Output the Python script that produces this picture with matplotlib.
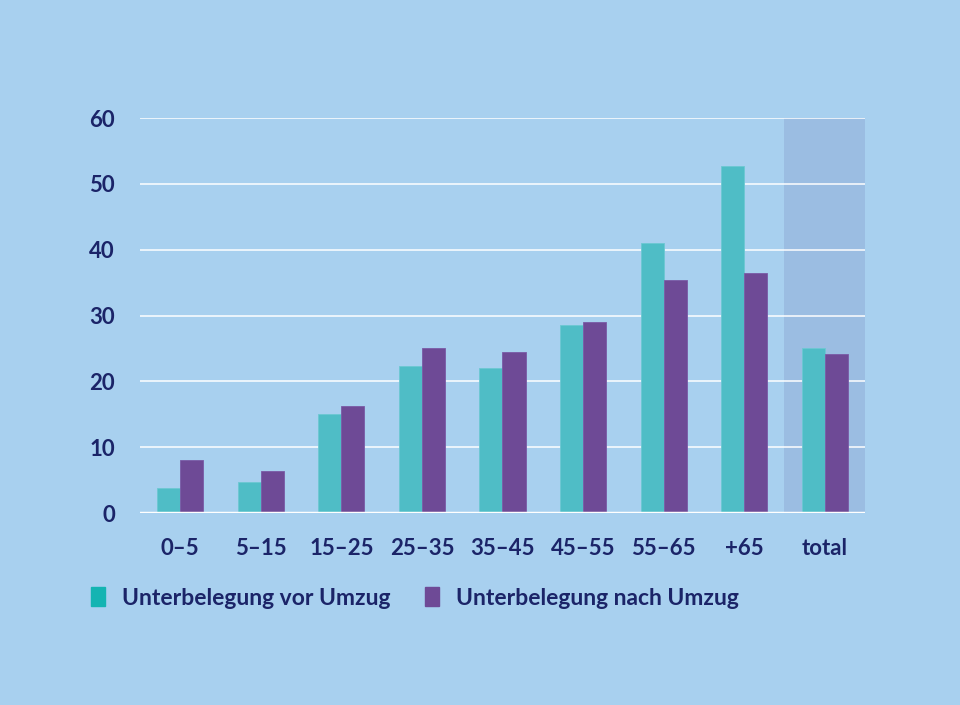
import matplotlib
matplotlib.use("Agg")
import matplotlib.pyplot as plt
import numpy as np

categories = ["0\u20135", "5\u201315", "15\u201325", "25\u201335", "35\u201345",
              "45\u201355", "55\u201365", "+65", "total"]
vor_umzug = [3.85, 4.7, 15.0, 22.4, 22.0, 28.55, 41.0, 52.75, 25.0]
nach_umzug = [8.05, 6.35, 16.2, 25.1, 24.4, 28.95, 35.4, 36.4, 24.15]
yticks = [0, 10, 20, 30, 40, 50, 60]

bg = "#a8d0ef"
teal = "#4fbdc6"
purple = "#6e4a96"
navy = "#1b2468"

plt.rcParams['font.family'] = ['Lato', 'DejaVu Sans']

fig = plt.figure(figsize=(9.6, 7.05), dpi=100, facecolor=bg)
ax = fig.add_axes([0.1458, 0.2723, 0.7552, 0.5603])
ax.set_facecolor(bg)

x = np.arange(len(categories))
w = 0.286
ax.axvspan(7.5, 8.5, color="#9bbde2", zorder=0, lw=0)
for y in yticks[1:]:
    ax.axhline(y, color="white", lw=1.2, alpha=0.9, zorder=1)
b1 = ax.bar(x - w / 2, vor_umzug, w, color=teal, edgecolor="#6cc8d2", lw=0.6, zorder=2)
b2 = ax.bar(x + w / 2, nach_umzug, w, color=purple, edgecolor="#7a5aa6", lw=0.6, zorder=2)
ax.axhline(0, color="white", lw=2.5, zorder=3)

ax.set_xlim(-0.5, 8.5)
ax.set_ylim(0, 60)
ax.set_xticks(x)
ax.set_xticklabels(categories)
ax.set_yticks(yticks)
for s in ax.spines.values():
    s.set_visible(False)
ax.tick_params(length=0, labelsize=16, labelcolor=navy)
ax.tick_params(axis="y", pad=18)
ax.tick_params(axis="x", pad=18)
for lab in ax.get_xticklabels() + ax.get_yticklabels():
    lab.set_fontweight("bold")

# legend squares: the "vor" swatch is a more saturated teal than the bars
h1 = plt.Rectangle((0, 0), 1, 1, fc="#14b4b2", ec="#14b4b2")
h2 = plt.Rectangle((0, 0), 1, 1, fc=purple, ec=purple)
leg = fig.legend([h1, h2], ["Unterbelegung vor Umzug", "Unterbelegung nach Umzug"],
                 loc="upper left", bbox_to_anchor=(0.073, 0.196), ncol=2, frameon=False,
                 handlelength=0.62, handleheight=0.85, handletextpad=0.75, columnspacing=1.5,
                 prop={"size": 16.5, "weight": "bold"})
for t in leg.get_texts():
    t.set_color(navy)

fig.savefig("out.png", dpi=100, facecolor=bg)
